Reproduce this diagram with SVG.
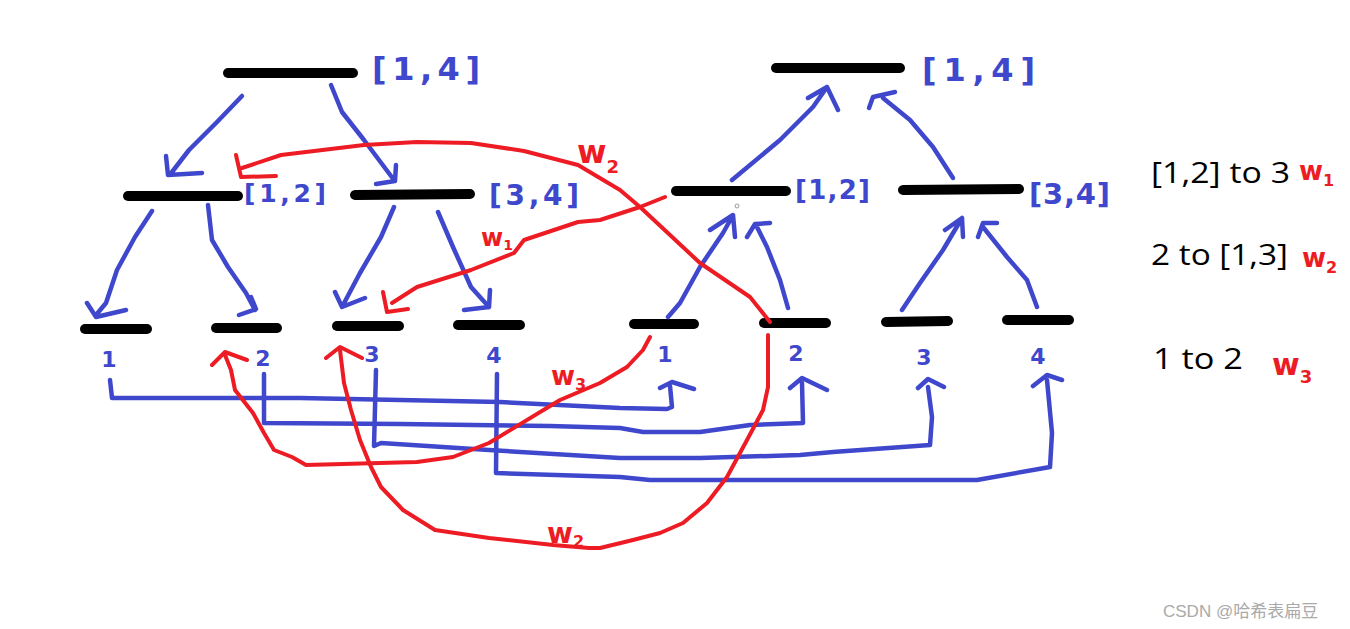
<svg xmlns="http://www.w3.org/2000/svg" width="1350" height="629" viewBox="0 0 1350 629">
<style>
.bar{stroke:#000;stroke-width:10;stroke-linecap:round;fill:none}
.b{stroke:#3f48cc;stroke-width:4.5;fill:none;stroke-linecap:round;stroke-linejoin:round}
.r{stroke:#ed1c24;stroke-width:4;fill:none;stroke-linecap:round;stroke-linejoin:round}
.bl{fill:#3f48cc;font-family:"DejaVu Sans",sans-serif;font-weight:bold}
.rl{fill:#ed1c24;font-family:"DejaVu Sans",sans-serif;font-weight:bold}
.num{fill:#3f48cc;font-family:"DejaVu Sans",sans-serif;font-weight:bold;font-size:22px;text-anchor:middle}
.t{fill:#000;font-family:"Open Sans","Noto Sans",sans-serif;font-size:30px}
</style>
<rect width="1350" height="629" fill="#fff"/>
<g id="left-root"><line class="bar" x1="228" y1="73" x2="353" y2="73"/><text class="bl" x="372" y="80" font-size="32" textLength="108" lengthAdjust="spacing">[1,4]</text></g>
<g id="left-12"><line class="bar" x1="128" y1="196" x2="238" y2="196"/><text class="bl" x="244" y="202" font-size="25" textLength="82" lengthAdjust="spacing">[1,2]</text></g>
<g id="left-34"><line class="bar" x1="355" y1="195" x2="470" y2="194"/><text class="bl" x="489" y="205" font-size="28" textLength="90" lengthAdjust="spacing">[3,4]</text></g>
<g id="left-1"><line class="bar" x1="85" y1="329" x2="147" y2="329"/><text class="num" x="109" y="367">1</text></g>
<g id="left-2"><line class="bar" x1="216" y1="328" x2="277" y2="328"/><text class="num" x="263" y="366">2</text></g>
<g id="left-3"><line class="bar" x1="337" y1="326" x2="399" y2="326"/><text class="num" x="372" y="362">3</text></g>
<g id="left-4"><line class="bar" x1="458" y1="325" x2="520" y2="325"/><text class="num" x="494" y="363">4</text></g>
<g id="right-root"><line class="bar" x1="776" y1="68" x2="900" y2="68"/><text class="bl" x="922" y="81" font-size="32" textLength="113" lengthAdjust="spacing">[1,4]</text></g>
<g id="right-12"><line class="bar" x1="676" y1="191" x2="786" y2="191"/><text class="bl" x="795" y="199" font-size="26" textLength="75" lengthAdjust="spacing">[1,2]</text></g>
<g id="right-34"><line class="bar" x1="903" y1="190" x2="1019" y2="189"/><text class="bl" x="1029" y="204" font-size="29" textLength="81" lengthAdjust="spacing">[3,4]</text></g>
<g id="right-1"><line class="bar" x1="634" y1="324" x2="694" y2="324"/><text class="num" x="665" y="362">1</text></g>
<g id="right-2"><line class="bar" x1="764" y1="323" x2="826" y2="323"/><text class="num" x="796" y="361">2</text></g>
<g id="right-3"><line class="bar" x1="886" y1="322" x2="948" y2="321"/><text class="num" x="924" y="365">3</text></g>
<g id="right-4"><line class="bar" x1="1007" y1="320" x2="1069" y2="320"/><text class="num" x="1038" y="364">4</text></g>
<circle cx="737" cy="206" r="2" fill="none" stroke="#999" stroke-width="1"/>
<g id="connectors">
<path class="b" d="M242,96 L217,122 L189,150 L172,172 M166,156 L168,175 L202,173"/>
<path class="b" d="M331,85 L342,112 L364,140 L394,180 M396,165 L395,181 L376,184"/>
<path class="b" d="M152,211 L135,237 L117,270 L106,303 L96,315 M87,303 L96,317 L126,310"/>
<path class="b" d="M208,205 L212,240 L228,267 L246,293 L255,310 M251,297 L256,309 L239,315"/>
<path class="b" d="M394,207 L381,237 L360,273 L342,307 M335,292 L342,307 L365,298"/>
<path class="b" d="M438,212 L453,247 L471,287 L489,307 M490,290 L489,307 L464,310"/>
<path class="b" d="M732,180 L780,140 L813,107 L827,87 M808,98 L827,87 L838,110"/>
<path class="b" d="M953,178 L933,147 L910,120 L883,98 M869,108 L873,97 L895,92"/>
<path class="b" d="M668,317 L680,303 L700,267 L723,233 L732,217 M710,230 L733,215 L735,237"/>
<path class="b" d="M788,308 L780,280 L767,247 L757,227 M747,237 L755,224 L770,223"/>
<path class="b" d="M902,310 L920,283 L943,250 L962,218 M945,230 L962,218 L963,237"/>
<path class="b" d="M1037,307 L1027,280 L1007,257 L983,227 M978,237 L983,223 L997,223"/>
<path class="b" d="M110,380 L112,398 L300,398 L500,402 L620,408 L667,409 L672,407 L670,386 M660,388 L672,382 L694,389"/>
<path class="b" d="M264,374 L264,423 L400,424 L550,426 L620,428 L643,432 L700,432 L750,425 L803,423 L802,383 M790,388 L802,378 L827,390"/>
<path class="b" d="M376,370 L374,446 L381,443 L489,450 L620,458 L700,458 L800,455 L833,452 L930,445 L932,417 L928,387 M918,388 L928,379 L944,387"/>
<path class="b" d="M497,374 L496,473 L620,477 L650,480 L977,480 L1050,467 L1052,433 L1047,380 M1033,386 L1047,375 L1062,380"/>
<path class="r" d="M770,322 L750,297 L700,263 L640,207 L620,190 L578,165 L524,151 L471,143 L417,142 L364,145 L281,155 L242,168 M236,155 L241,177 L276,176"/>
<path class="r" d="M665,197 L640,207 L600,220 L578,222 L524,240 L514,253 L471,270 L417,287 L392,303 M383,292 L387,312 L408,309"/>
<path class="r" d="M650,337 L643,350 L627,367 L600,383 L560,400 L489,443 L453,457 L417,462 L306,465 L292,457 L274,450 L264,433 L253,413 L235,390 L231,370 L225,355 M212,365 L225,352 L247,360"/>
<path class="r" d="M768,335 L768,387 L763,410 L747,440 L727,477 L707,503 L683,523 L660,533 L633,540 L600,548 L589,548 L553,545 L489,538 L435,530 L403,510 L381,487 L371,467 L360,440 L351,410 L344,383 L340,350 M326,358 L340,347 L362,358"/>
</g>
<g id="edge-labels">
<text class="rl" x="577" y="163" font-size="32">w<tspan font-size="18" dy="10">2</tspan></text>
<text class="rl" x="481" y="246" font-size="24">w<tspan font-size="14" dy="4">1</tspan></text>
<text class="rl" x="551" y="385" font-size="26">w<tspan font-size="16" dy="5">3</tspan></text>
<text class="rl" x="547" y="543" font-size="28">w<tspan font-size="16" dy="4">2</tspan></text>
</g>
<g id="legend">
<text class="t" x="1151" y="183" textLength="139" lengthAdjust="spacingAndGlyphs">[1,2] to 3</text>
<text class="rl" x="1299" y="180" font-size="26">w<tspan font-size="16" dy="6">1</tspan></text>
<text class="t" x="1151" y="265" textLength="137" lengthAdjust="spacingAndGlyphs">2 to [1,3]</text>
<text class="rl" x="1302" y="267" font-size="26">w<tspan font-size="16" dy="6">2</tspan></text>
<text class="t" x="1153" y="369" textLength="90" lengthAdjust="spacingAndGlyphs">1 to 2</text>
<text class="rl" x="1272" y="375" font-size="30">w<tspan font-size="18" dy="8">3</tspan></text>
</g>
<text x="1163" y="617" font-family="Liberation Sans,'Noto Sans CJK SC',sans-serif" font-size="17" fill="#aaa">CSDN @哈希表扁豆</text>
</svg>
